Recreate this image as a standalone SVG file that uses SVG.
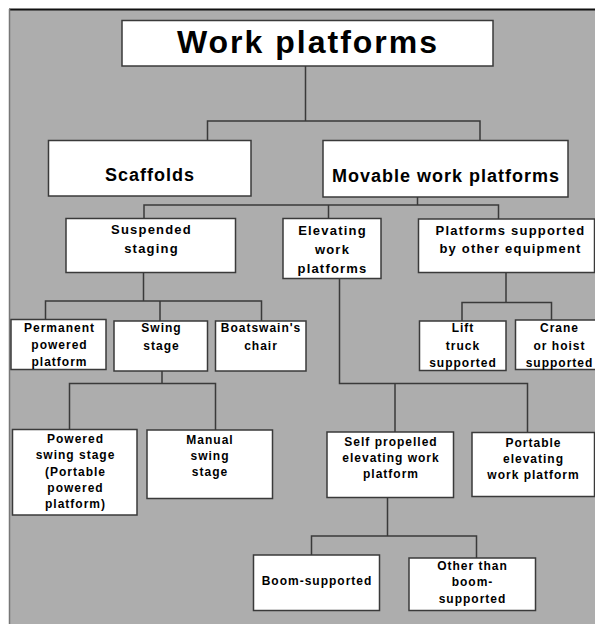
<svg xmlns="http://www.w3.org/2000/svg" width="595" height="624" viewBox="0 0 595 624">
<style>
.box{fill:#fff;stroke:#3a3a3a;stroke-width:1.5}
.ln{fill:none;stroke:#3a3a3a;stroke-width:1.5}
text{font-family:"Liberation Sans",Arial,sans-serif;font-weight:bold;fill:#000;text-anchor:middle}
.t0{font-size:32px;letter-spacing:2px}
.t1{font-size:18px;letter-spacing:1px}
.t2{font-size:13px;letter-spacing:1.2px}
.t3{font-size:12px;letter-spacing:1px}
</style>
<rect x="0" y="0" width="595" height="624" fill="#fff"/>
<rect x="9" y="9" width="586" height="615" fill="#adadad"/>
<line x1="9" y1="9.5" x2="595" y2="9.5" stroke="#111" stroke-width="2"/>
<line x1="9.5" y1="9" x2="9.5" y2="624" stroke="#777" stroke-width="1.5"/>
<g id="connectors">
<path class="ln" d="M305.5 66V121M207.5 140V121H480V140"/>
<path class="ln" d="M417.5 197V205M144 218V205H498.5V219M328.5 205V218"/>
<path class="ln" d="M143.5 272V301M45.5 319V301H261.5V321M160 301V321"/>
<path class="ln" d="M162 371V383.5M69.5 429V383.5H215.5V430"/>
<path class="ln" d="M506 272V302.5M462 321V302.5H551.5V320"/>
<path class="ln" d="M339.5 278V383.5H527.5V432M395 383.5V432"/>
<path class="ln" d="M387.5 498V536M311.5 555V536H476.5V558"/>
</g>
<g id="work-platforms"><rect class="box" x="122" y="20.5" width="371" height="45.5"/><text class="t0" x="308" y="53">Work platforms</text></g>
<g id="scaffolds"><rect class="box" x="48.5" y="140.5" width="202.5" height="55.5"/><text class="t1" x="150" y="181">Scaffolds</text></g>
<g id="movable"><rect class="box" x="323" y="140.5" width="245" height="56.5"/><text class="t1" x="446" y="182">Movable work platforms</text></g>
<g id="suspended"><rect class="box" x="66" y="218.5" width="169.5" height="54"/><text class="t2" x="151.5" y="234">Suspended</text><text class="t2" x="151.5" y="252.5">staging</text></g>
<g id="elevating"><rect class="box" x="283" y="218.5" width="98" height="60"/><text class="t2" x="332.5" y="235">Elevating</text><text class="t2" x="332.5" y="254">work</text><text class="t2" x="332.5" y="273">platforms</text></g>
<g id="other-equipment"><rect class="box" x="418.5" y="219" width="176" height="53.5"/><text class="t2" x="510.5" y="235">Platforms supported</text><text class="t2" x="510.5" y="253">by other equipment</text></g>
<g id="permanent"><rect class="box" x="11" y="319.5" width="95" height="50"/><text class="t3" x="59.5" y="332">Permanent</text><text class="t3" x="59.5" y="349">powered</text><text class="t3" x="59.5" y="365.5">platform</text></g>
<g id="swing"><rect class="box" x="114" y="321" width="93.5" height="50"/><text class="t3" x="161.5" y="332">Swing</text><text class="t3" x="161.5" y="350">stage</text></g>
<g id="boatswain"><rect class="box" x="215.5" y="321" width="90.5" height="50"/><text class="t3" x="261" y="332">Boatswain's</text><text class="t3" x="261" y="350">chair</text></g>
<g id="lift"><rect class="box" x="419.5" y="321" width="86.5" height="49.5"/><text class="t3" x="463" y="332">Lift</text><text class="t3" x="463" y="350">truck</text><text class="t3" x="463" y="366.5">supported</text></g>
<g id="crane"><rect class="box" x="515.5" y="320" width="82" height="49.5"/><text class="t3" x="559.5" y="332">Crane</text><text class="t3" x="559.5" y="350">or hoist</text><text class="t3" x="559.5" y="366.5">supported</text></g>
<g id="powered-swing"><rect class="box" x="12.5" y="429.5" width="124.5" height="85.5"/><text class="t3" x="75.5" y="443">Powered</text><text class="t3" x="75.5" y="459">swing stage</text><text class="t3" x="75.5" y="475.5">(Portable</text><text class="t3" x="75.5" y="491.5">powered</text><text class="t3" x="75.5" y="508">platform)</text></g>
<g id="manual-swing"><rect class="box" x="147" y="430" width="125.5" height="68.5"/><text class="t3" x="210" y="444">Manual</text><text class="t3" x="210" y="460">swing</text><text class="t3" x="210" y="476">stage</text></g>
<g id="self-propelled"><rect class="box" x="327" y="432" width="126.5" height="65.5"/><text class="t3" x="391" y="446">Self propelled</text><text class="t3" x="391" y="462">elevating work</text><text class="t3" x="391" y="478">platform</text></g>
<g id="portable"><rect class="box" x="472" y="432.5" width="122.5" height="64"/><text class="t3" x="533.5" y="447">Portable</text><text class="t3" x="533.5" y="463">elevating</text><text class="t3" x="533.5" y="479">work platform</text></g>
<g id="boom"><rect class="box" x="253.5" y="555" width="126" height="55.5"/><text class="t3" x="317" y="585">Boom-supported</text></g>
<g id="other-than-boom"><rect class="box" x="409" y="558" width="126.5" height="52.5"/><text class="t3" x="472.5" y="570">Other than</text><text class="t3" x="472.5" y="586">boom-</text><text class="t3" x="472.5" y="603">supported</text></g>
</svg>
